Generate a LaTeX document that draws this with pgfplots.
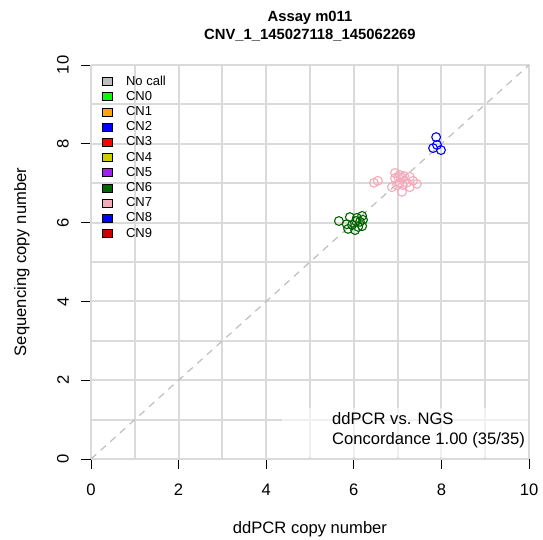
\documentclass[border=0pt]{standalone}
\usepackage{fontspec}
\setmainfont{Liberation Sans}
\usepackage{pgfplots}
\pgfplotsset{compat=1.18}
\definecolor{gridgray}{HTML}{DADADA}
\definecolor{diaggray}{HTML}{BEBEBE}
\definecolor{nocall}{HTML}{BEBEBE}
\definecolor{cnzero}{HTML}{00FF00}
\definecolor{cnone}{HTML}{FFA500}
\definecolor{cntwo}{HTML}{0000FF}
\definecolor{cnthree}{HTML}{FF0000}
\definecolor{cnfour}{HTML}{CDCD00}
\definecolor{cnfive}{HTML}{A020F0}
\definecolor{cnsix}{HTML}{006400}
\definecolor{cnseven}{HTML}{F4AABB}
\definecolor{cneight}{HTML}{0000FF}
\definecolor{cnnine}{HTML}{CD0000}
\begin{document}
\begin{tikzpicture}
\path[use as bounding box] (-91pt,-81pt) rectangle (452pt,459pt);
\begin{axis}[
  scale only axis, width=438pt, height=394pt,
  xmin=0, xmax=10, ymin=0, ymax=10,
  axis x line*=bottom, axis y line*=left,
  axis line style={gridgray, line width=2pt},
  xtick={0,2,...,10}, ytick={0,2,...,10},
  extra x ticks={1,3,5,7,9}, extra y ticks={1,3,5,7,9},
  extra tick style={grid=major, major tick length=0pt, xticklabels={}, yticklabels={}},
  grid=major,
  major grid style={gridgray, line width=2pt},
  tick align=outside, major tick length=10pt,
  major tick style={black, line width=0.9pt},
  /pgf/number format/assume math mode=true,
  tick label style={font=\fontsize{16.6}{20}\selectfont},
  xticklabel style={anchor=north, inner sep=0pt, yshift=-15pt},
  yticklabel style={rotate=90, anchor=south, inner sep=0pt, yshift=12pt},
  xlabel={ddPCR copy number},
  ylabel={Sequencing copy number},
  xlabel style={at={(axis description cs:0.5,-0.178)}, anchor=center, font=\fontsize{16.6}{20}\selectfont},
  ylabel style={at={(axis description cs:-0.158,0.5)}, anchor=center, font=\fontsize{16.6}{20}\selectfont},
  title={Assay m011\\CNV\_1\_145027118\_145062269},
  title style={at={(axis description cs:0.5,1.084)}, anchor=center, align=center, font=\bfseries\fontsize{14.8}{18}\selectfont},
  legend style={at={(axis description cs:0,1)}, anchor=north west, xshift=11.3pt, yshift=-9.4pt,
    draw=none, fill=none, inner sep=0pt, row sep=1.2pt, column sep=11.7pt,
    font=\fontsize{13}{15}\selectfont,
    nodes={inner sep=1pt, text height=9.5pt, text depth=2.5pt, anchor=west}},
  legend cell align=left,
  legend image code/.code={\draw[#1, draw=black, line width=0.9pt] (0pt,-4pt) rectangle (10pt,4pt);},
]
\addlegendimage{fill=nocall}\addlegendentry{No call}
\addlegendimage{fill=cnzero}\addlegendentry{CN0}
\addlegendimage{fill=cnone}\addlegendentry{CN1}
\addlegendimage{fill=cntwo}\addlegendentry{CN2}
\addlegendimage{fill=cnthree}\addlegendentry{CN3}
\addlegendimage{fill=cnfour}\addlegendentry{CN4}
\addlegendimage{fill=cnfive}\addlegendentry{CN5}
\addlegendimage{fill=cnsix}\addlegendentry{CN6}
\addlegendimage{fill=cnseven}\addlegendentry{CN7}
\addlegendimage{fill=cneight}\addlegendentry{CN8}
\addlegendimage{fill=cnnine}\addlegendentry{CN9}

\addplot[diaggray, line width=1.2pt, dash pattern=on 7pt off 6pt, forget plot] coordinates {(0,0) (10,10)};

\fill[white, opacity=0.6] (axis cs:4.36,0.05) rectangle (axis cs:9.97,1.29);
\node[anchor=west, align=left, font=\fontsize{16.6}{20}\selectfont, inner sep=0pt] at (axis cs:5.5,0.72) {ddPCR vs. NGS\\Concordance 1.00 (35/35)};

\addplot[only marks, mark=o, mark size=4.4pt, cnsix, mark options={line width=1.1pt}, forget plot] coordinates {
(5.66,6.04) (5.84,5.96) (5.87,5.84) (6.03,5.81) (6.10,5.89) (6.07,6.12) (6.19,6.17)
(6.21,6.07) (6.19,5.91) (5.96,5.94) (5.91,6.14) (6.05,6.04) (6.14,6.02)};
\addplot[only marks, mark=o, mark size=4.4pt, cnseven, mark options={line width=1.1pt}, forget plot] coordinates {
(6.46,7.01) (6.55,7.06) (6.94,7.26) (7.01,7.16) (7.05,7.21) (6.94,7.13) (7.12,7.13)
(7.28,7.16) (7.35,7.06) (7.44,6.98) (7.28,6.90) (7.10,6.78) (6.87,6.90) (6.99,6.95)
(7.21,7.01) (7.05,7.01) (7.12,6.95) (7.15,7.18)};
\addplot[only marks, mark=o, mark size=4.4pt, cneight, mark options={line width=1.1pt}, forget plot] coordinates {
(7.88,8.17) (7.81,7.89) (7.99,7.84) (7.90,7.97)};
\end{axis}
\end{tikzpicture}
\end{document}
